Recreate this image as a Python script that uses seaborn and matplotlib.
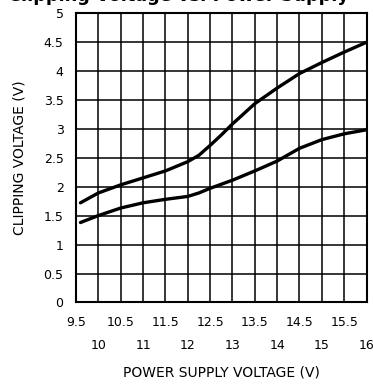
import matplotlib
matplotlib.use("Agg")
import matplotlib.pyplot as plt
import seaborn as sns
import numpy as np

# supply voltage (V) and clipping voltage (V) for the two curves
supply_v = [9.6, 10.0, 10.5, 11.0, 11.5, 12.0, 12.25, 12.5, 12.75, 13.0, 13.5, 14.0, 14.5, 15.0, 15.5, 16.0]
clip_upper = [1.72, 1.89, 2.03, 2.15, 2.27, 2.43, 2.54, 2.71, 2.89, 3.08, 3.43, 3.70, 3.95, 4.14, 4.32, 4.49]
clip_lower = [1.38, 1.50, 1.63, 1.72, 1.78, 1.83, 1.89, 1.97, 2.04, 2.11, 2.27, 2.44, 2.66, 2.81, 2.91, 2.98]

x_major = [10, 11, 12, 13, 14, 15, 16]
x_minor = [9.5, 10.5, 11.5, 12.5, 13.5, 14.5, 15.5]
y_ticks = [0, 0.5, 1, 1.5, 2, 2.5, 3, 3.5, 4, 4.5, 5]

sns.set_style("white")
plt.rcParams['font.family'] = ['DejaVu Sans']
plt.rcParams['text.color'] = 'black'
plt.rcParams['axes.labelcolor'] = 'black'

fig = plt.figure(figsize=(3.73, 3.85), dpi=100)
ax = fig.add_axes([0.2038, 0.2143, 0.7788, 0.7527])

sns.lineplot(x=supply_v, y=clip_upper, color='black', linewidth=2.4, ax=ax)
sns.lineplot(x=supply_v, y=clip_lower, color='black', linewidth=2.4, ax=ax)

ax.set_xlim(9.5, 16)
ax.set_ylim(0, 5)

ax.set_xticks(x_major)
ax.set_xticklabels([str(v) for v in x_major])
ax.set_xticks(x_minor, minor=True)
ax.set_xticklabels([str(v) for v in x_minor], minor=True)
ax.set_yticks(y_ticks)
ax.set_yticklabels(['0', '0.5', '1', '1.5', '2', '2.5', '3', '3.5', '4', '4.5', '5'])

ax.tick_params(axis='x', which='major', length=0, pad=26, labelsize=9, labelcolor='black')
ax.tick_params(axis='x', which='minor', length=0, pad=10, labelsize=9, labelcolor='black')
ax.tick_params(axis='y', length=0, pad=9, labelsize=9, labelcolor='black')

ax.grid(which='both', color='black', linewidth=1.1)
ax.set_axisbelow(True)
for s in ax.spines.values():
    s.set_color('black')
    s.set_linewidth(1.5)

ax.set_xlabel('POWER SUPPLY VOLTAGE (V)', fontsize=10, labelpad=10, color='black')
ax.set_ylabel('CLIPPING VOLTAGE (V)', fontsize=10, labelpad=12, color='black')

# title sits partly above the top edge, as in the source image
fig.text(0.479, 0.9985, 'Clipping Voltage vs. Power Supply', ha='center', va='baseline',
         fontsize=12.7, fontweight='bold', color='black')

fig.savefig('out.png', dpi=100)
